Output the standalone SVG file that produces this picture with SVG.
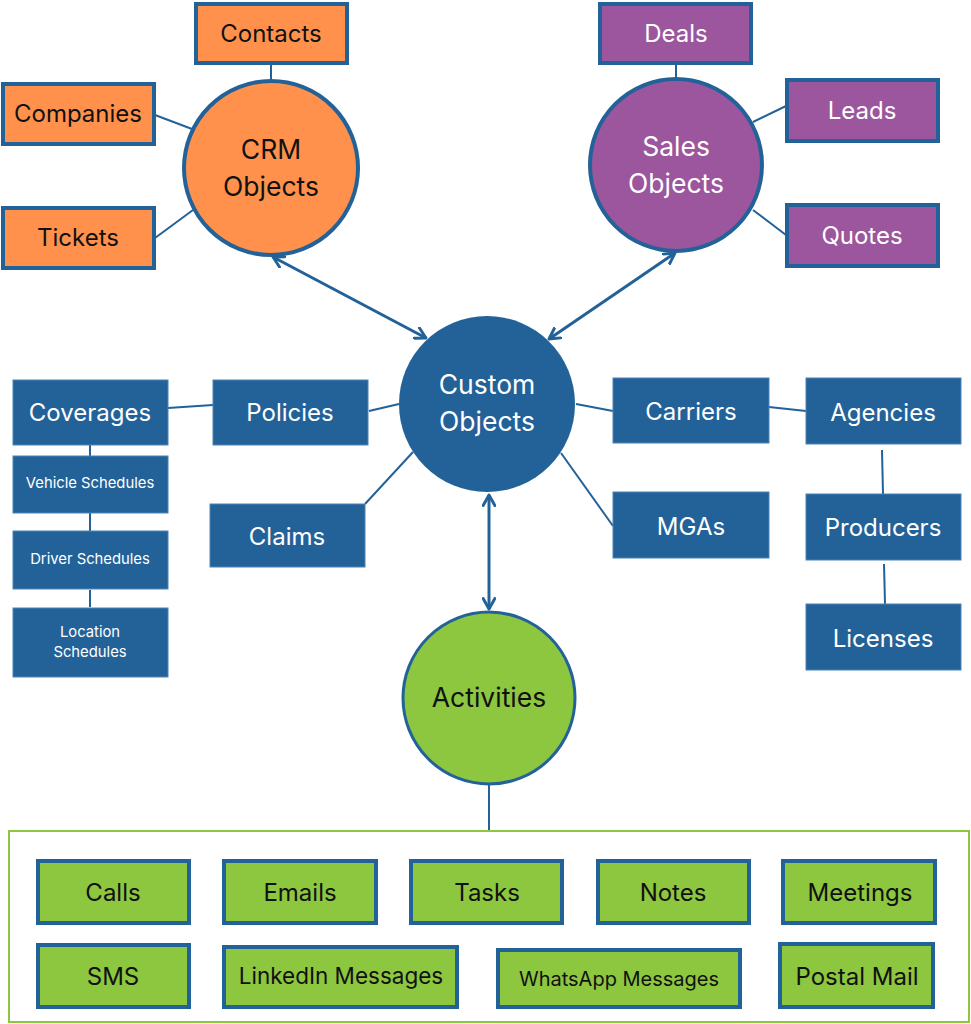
<svg xmlns="http://www.w3.org/2000/svg" width="971" height="1024" viewBox="0 0 971 1024">
<style>
text{font-family:Inter,"Noto Sans","Liberation Sans",sans-serif;text-anchor:middle}
.or{fill:#FF914D;stroke:#236298;stroke-width:4}
.pu{fill:#9B569D;stroke:#236298;stroke-width:4}
.bl{fill:#236298;stroke:#4C84B5;stroke-width:1}
.gr{fill:#8DC63F;stroke:#236298;stroke-width:4}
.dk{fill:#111}
.wh{fill:#fff}
.t22{font-size:24px}
.t24{font-size:26.5px}
.t14{font-size:14.8px}
.ln{stroke:#236298;stroke-width:2;fill:none}
.ar{stroke:#236298;stroke-width:3;fill:none}
</style>
<defs>
<marker id="head" viewBox="0 0 12 12" refX="10" refY="6" markerWidth="14" markerHeight="14" markerUnits="userSpaceOnUse" orient="auto-start-reverse">
<path d="M1,1 L10,6 L1,11" fill="none" stroke="#236298" stroke-width="2.5" stroke-linecap="round" stroke-linejoin="round"/>
</marker>
</defs>

<g id="connectors">
<line class="ln" x1="271" y1="63" x2="271" y2="81"/>
<line class="ln" x1="155" y1="115" x2="192" y2="129"/>
<line class="ln" x1="155" y1="238" x2="193" y2="210"/>
<line class="ln" x1="676" y1="63" x2="676" y2="79"/>
<line class="ln" x1="786" y1="106" x2="753" y2="122"/>
<line class="ln" x1="786" y1="235" x2="753" y2="210"/>
<line class="ar" x1="273" y1="257" x2="426" y2="338" marker-start="url(#head)" marker-end="url(#head)"/>
<line class="ar" x1="675" y1="253" x2="549" y2="339" marker-start="url(#head)" marker-end="url(#head)"/>
<line class="ar" x1="489" y1="495" x2="489" y2="609" marker-start="url(#head)" marker-end="url(#head)"/>
<line class="ln" x1="168" y1="408" x2="213" y2="405"/>
<line class="ln" x1="369" y1="411" x2="399" y2="404"/>
<line class="ln" x1="365" y1="504" x2="413" y2="452"/>
<line class="ln" x1="90" y1="445" x2="90" y2="456"/>
<line class="ln" x1="90" y1="513" x2="90" y2="531"/>
<line class="ln" x1="90" y1="590" x2="90" y2="607"/>
<line class="ln" x1="576" y1="404" x2="613" y2="411"/>
<line class="ln" x1="769" y1="407" x2="806" y2="411"/>
<line class="ln" x1="561" y1="453" x2="613" y2="526"/>
<line class="ln" x1="882" y1="450" x2="883" y2="494"/>
<line class="ln" x1="884" y1="564" x2="885" y2="604"/>
<line class="ln" x1="489" y1="785" x2="489" y2="831"/>
</g>

<g id="crm">
<circle class="or" cx="271" cy="168" r="87"/>
<text class="dk t24" x="271" y="159">CRM</text>
<text class="dk t24" x="271" y="196">Objects</text>
</g>
<g id="contacts"><rect class="or" x="196" y="4" width="151" height="59"/><text class="dk t22" x="271" y="42">Contacts</text></g>
<g id="companies"><rect class="or" x="3" y="84" width="151" height="60"/><text class="dk t22" x="78" y="122">Companies</text></g>
<g id="tickets"><rect class="or" x="3" y="208" width="151" height="60"/><text class="dk t22" x="78" y="246">Tickets</text></g>

<g id="sales">
<circle class="pu" cx="676" cy="165" r="86"/>
<text class="wh t24" x="676" y="156">Sales</text>
<text class="wh t24" x="676" y="193">Objects</text>
</g>
<g id="deals"><rect class="pu" x="600" y="4" width="151" height="59"/><text class="wh t22" x="676" y="42">Deals</text></g>
<g id="leads"><rect class="pu" x="787" y="80" width="151" height="61"/><text class="wh t22" x="862" y="119">Leads</text></g>
<g id="quotes"><rect class="pu" x="787" y="205" width="151" height="61"/><text class="wh t22" x="862" y="244">Quotes</text></g>

<g id="custom">
<circle cx="487" cy="404" r="88" fill="#236298"/>
<text class="wh t24" x="487" y="394">Custom</text>
<text class="wh t24" x="487" y="431">Objects</text>
</g>

<g id="coverages"><rect class="bl" x="13" y="380" width="155" height="65"/><text class="wh t22" x="90" y="421">Coverages</text></g>
<g id="vehicle"><rect class="bl" x="13" y="456" width="155" height="57"/><text class="wh t14" x="90" y="488">Vehicle Schedules</text></g>
<g id="driver"><rect class="bl" x="13" y="531" width="155" height="58"/><text class="wh t14" x="90" y="564">Driver Schedules</text></g>
<g id="location"><rect class="bl" x="13" y="608" width="155" height="69"/><text class="wh t14" x="90" y="637">Location</text><text class="wh t14" x="90" y="657">Schedules</text></g>
<g id="policies"><rect class="bl" x="213" y="380" width="155" height="65"/><text class="wh t22" x="290" y="421">Policies</text></g>
<g id="claims"><rect class="bl" x="210" y="504" width="155" height="63"/><text class="wh t22" x="287" y="545">Claims</text></g>

<g id="carriers"><rect class="bl" x="613" y="378" width="156" height="65"/><text class="wh t22" x="691" y="420">Carriers</text></g>
<g id="agencies"><rect class="bl" x="806" y="378" width="155" height="66"/><text class="wh t22" x="883" y="421">Agencies</text></g>
<g id="mgas"><rect class="bl" x="613" y="492" width="156" height="66"/><text class="wh t22" x="691" y="535">MGAs</text></g>
<g id="producers"><rect class="bl" x="806" y="494" width="155" height="66"/><text class="wh t22" x="883" y="536">Producers</text></g>
<g id="licenses"><rect class="bl" x="806" y="604" width="155" height="66"/><text class="wh t22" x="883" y="647">Licenses</text></g>

<g id="activities">
<circle cx="489" cy="698" r="86" fill="#8DC63F" stroke="#236298" stroke-width="3"/>
<text class="dk t24" x="489" y="707">Activities</text>
</g>

<g id="activity-group">
<rect x="9" y="831" width="960" height="191" fill="none" stroke="#8DC63F" stroke-width="2"/>
</g>
<g id="calls"><rect class="gr" x="38" y="861" width="151" height="62"/><text class="dk t22" x="113" y="901">Calls</text></g>
<g id="emails"><rect class="gr" x="224" y="861" width="152" height="62"/><text class="dk t22" x="300" y="901">Emails</text></g>
<g id="tasks"><rect class="gr" x="411" y="861" width="151" height="62"/><text class="dk t22" x="487" y="901">Tasks</text></g>
<g id="notes"><rect class="gr" x="598" y="861" width="151" height="62"/><text class="dk t22" x="673" y="901">Notes</text></g>
<g id="meetings"><rect class="gr" x="783" y="861" width="152" height="62"/><text class="dk t22" x="860" y="901">Meetings</text></g>
<g id="sms"><rect class="gr" x="38" y="945" width="151" height="62"/><text class="dk t22" x="113" y="985">SMS</text></g>
<g id="linkedin"><rect class="gr" x="224" y="947" width="233" height="60"/><text class="dk" font-size="22.5" x="341" y="984">LinkedIn Messages</text></g>
<g id="whatsapp"><rect class="gr" x="498" y="950" width="242" height="57"/><text class="dk" font-size="20" x="619" y="986">WhatsApp Messages</text></g>
<g id="postal"><rect class="gr" x="780" y="944" width="153" height="63"/><text class="dk t22" x="857" y="985">Postal Mail</text></g>
</svg>
